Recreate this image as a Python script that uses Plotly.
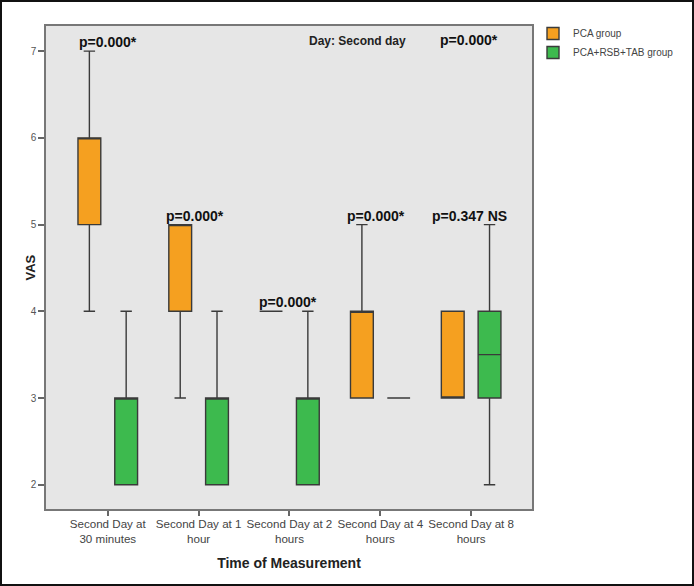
import plotly.graph_objects as go

categories = ["Second Day at<br>30 minutes", "Second Day at 1<br>hour", "Second Day at 2<br>hours",
              "Second Day at 4<br>hours", "Second Day at 8<br>hours"]

# PCA group (quartile summaries)
pca_low = [4, 3, 4, 3, 3]
pca_q1 = [5, 4, 4, 3, 3]
pca_med = [6, 5, 4, 4, 3]
pca_q3 = [6, 5, 4, 4, 4]
pca_high = [7, 5, 4, 5, 4]

# PCA+RSB+TAB group
comb_low = [2, 2, 2, 3, 2]
comb_q1 = [2, 2, 2, 3, 3]
comb_med = [3, 3, 3, 3, 3.5]
comb_q3 = [3, 3, 3, 3, 4]
comb_high = [4, 4, 4, 3, 5]

p_labels = ["p=0.000*", "p=0.000*", "p=0.000*", "p=0.000*", "p=0.347 NS"]
p_xshift = [0, -4, -1, -4, -2]

ORANGE = "#F5A020"
GREEN = "#3DBA4E"
LINE = "#3a3a3a"
FONT = "Liberation Sans, Arial"

fig = go.Figure()
fig.add_trace(go.Box(
    name="PCA group", x=categories, q1=pca_q1, median=pca_med, q3=pca_q3,
    lowerfence=pca_low, upperfence=pca_high,
    fillcolor=ORANGE, line=dict(color=LINE, width=1.4), whiskerwidth=0.5,
    boxpoints=False, hoverinfo="skip"))
fig.add_trace(go.Box(
    name="PCA+RSB+TAB group", x=categories, q1=comb_q1, median=comb_med, q3=comb_q3,
    lowerfence=comb_low, upperfence=comb_high,
    fillcolor=GREEN, line=dict(color=LINE, width=1.4), whiskerwidth=0.5,
    boxpoints=False, hoverinfo="skip"))

W, H = 694, 586
ml, mr, mt, mb = 46, 162, 26, 77
pw, ph = W - ml - mr, H - mt - mb

annotations = []
for i, cat in enumerate(categories):
    top = max(pca_high[i], comb_high[i])
    annotations.append(dict(x=cat, y=top, xref="x", yref="y", text="<b>%s</b>" % p_labels[i],
                            showarrow=False, yanchor="bottom", xshift=p_xshift[i], yshift=-1,
                            font=dict(family=FONT, size=14, color="#111")))
annotations.append(dict(x=categories[4], y=max(pca_high), xref="x", yref="y", text="<b>p=0.000*</b>",
                        showarrow=False, yanchor="bottom", xshift=-2, yshift=1,
                        font=dict(family=FONT, size=14, color="#111")))
annotations.append(dict(x=categories[3], y=max(pca_high), xref="x", yref="y", text="<b>Day: Second day</b>",
                        showarrow=False, yanchor="bottom", xshift=-23, yshift=1,
                        font=dict(family=FONT, size=12, color="#222")))
annotations.append(dict(x=(30 - ml) / pw, y=0.5, xref="paper", yref="paper", text="<b>VAS</b>",
                        textangle=-90, showarrow=False, xanchor="center", yanchor="middle",
                        font=dict(family=FONT, size=13, color="#222")))

fig.update_layout(
    width=W, height=H,
    margin=dict(l=ml, r=mr, t=mt, b=mb, pad=0),
    paper_bgcolor="white", plot_bgcolor="#E6E6E6",
    boxmode="group", boxgap=0.19, boxgroupgap=0.38,
    font=dict(family=FONT, color="#444"),
    legend=dict(x=(533 - ml) / pw, y=(H - mb - 19) / ph,
                xanchor="left", yanchor="top", font=dict(size=10, color="#444"),
                bgcolor="rgba(0,0,0,0)", itemwidth=30, tracegroupgap=0),
    annotations=annotations,
    shapes=[dict(type="rect", xref="paper", yref="paper",
                 x0=(1 - ml) / pw, x1=(W - 1 - ml) / pw,
                 y0=(H - mb - (H - 1)) / ph, y1=(H - mb - 1) / ph,
                 line=dict(color="#111", width=2), fillcolor="rgba(0,0,0,0)", layer="above")],
)

fig.update_xaxes(
    type="category", range=[-0.68, 4.67], tickangle=0, automargin=False,
    showline=True, linecolor="#777", linewidth=1.5, mirror=True,
    ticks="outside", ticklen=5, tickcolor="#666", tickwidth=1.5,
    tickfont=dict(size=11.6, color="#444"), showgrid=False, ticklabelstandoff=-2,
    title=dict(text="<b>Time of Measurement</b>", font=dict(size=14, color="#222"), standoff=14),
)
fig.update_yaxes(
    range=[1.72, 7.29], tickvals=[2, 3, 4, 5, 6, 7], automargin=False,
    showline=True, linecolor="#777", linewidth=1.5, mirror=True,
    ticks="outside", ticklen=6, tickcolor="#666", tickwidth=1.5,
    tickfont=dict(size=10, color="#555"), showgrid=False, zeroline=False,
)

fig.write_html("out.html", config={"displayModeBar": False},
               post_script="document.body.style.margin='0';")
